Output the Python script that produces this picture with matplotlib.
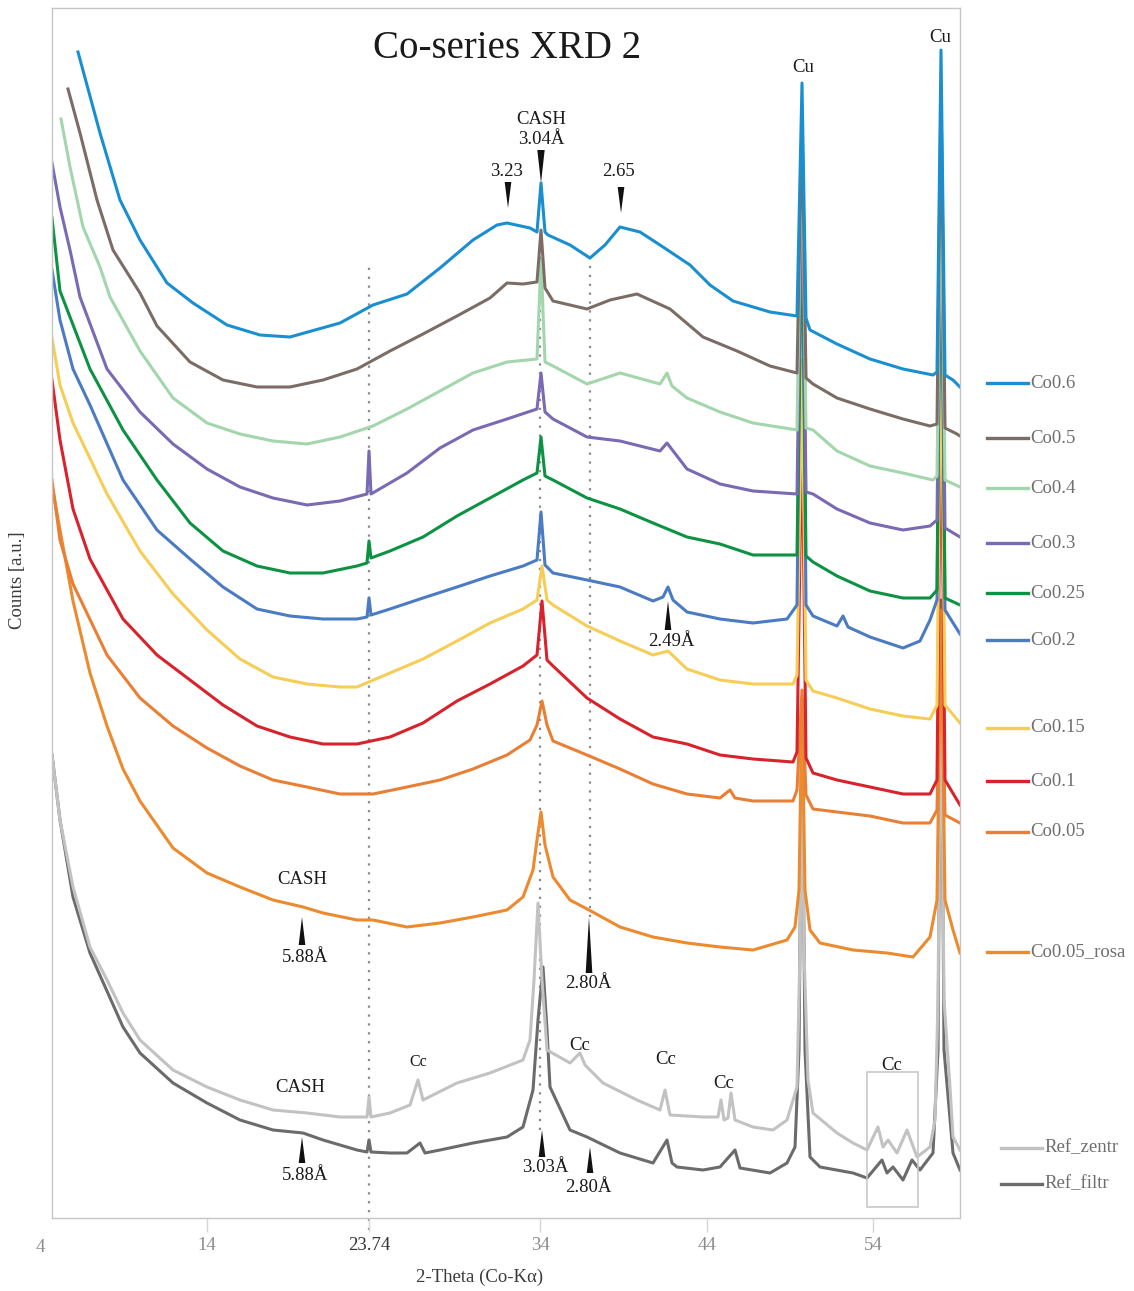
import matplotlib
matplotlib.use('Agg')
import matplotlib.pyplot as plt
from matplotlib.lines import Line2D
from matplotlib.patches import Polygon, Rectangle

plt.rcParams['font.family'] = ['Liberation Serif', 'DejaVu Serif']

# 2-Theta (deg) and counts (a.u., stacked) for each sample
tt_co06 = [6.28, 7.60, 8.80, 10.00, 11.62, 13.18, 15.22, 17.20, 19.00, 22.00,
           23.98, 26.02, 28.00, 29.98, 31.42, 32.02, 33.40, 33.82, 34.06, 34.30,
           34.48, 35.80, 37.00, 37.90, 38.80, 40.00, 41.20, 43.00, 44.20, 45.58,
           47.80, 49.42, 49.72, 49.96, 50.20, 51.82, 53.80, 55.78, 57.58, 57.82,
           58.06, 58.30, 58.78, 59.20]
cnt_co06 = [1166, 1085, 1018, 978, 935, 915, 893, 883, 881, 895,
            913, 924, 950, 978, 993, 995, 990, 986, 1035, 986,
            983, 973, 960, 973, 991, 986, 973, 953, 933, 917,
            906, 902, 1135, 900, 888, 874, 859, 849, 843, 846,
            1168, 843, 838, 831]

tt_co05 = [5.68, 6.40, 7.42, 8.38, 10.00, 11.02, 13.00, 14.98, 17.02, 19.00,
           20.98, 23.02, 25.00, 26.98, 29.02, 31.00, 32.02, 32.98, 33.82, 34.06,
           34.30, 34.78, 36.82, 38.20, 39.82, 41.80, 43.78, 45.82, 47.80, 49.42,
           49.72, 49.96, 50.38, 51.82, 53.80, 55.78, 57.40, 57.82, 58.06, 58.30,
           59.02, 59.20]
cnt_co05 = [1129, 1085, 1018, 968, 925, 892, 856, 838, 831, 831,
            838, 849, 867, 884, 902, 920, 935, 934, 936, 988,
            930, 917, 909, 918, 924, 909, 881, 867, 852, 845,
            1098, 840, 834, 820, 809, 799, 792, 794, 1128, 790,
            784, 782]

tt_co04 = [5.26, 5.80, 6.58, 7.60, 8.20, 10.00, 11.98, 14.02, 16.00, 17.98,
           20.02, 22.00, 23.98, 26.02, 28.00, 29.98, 32.02, 33.82, 34.06, 34.30,
           34.78, 36.82, 38.80, 41.20, 41.62, 41.92, 42.82, 44.80, 46.78, 49.42,
           49.72, 49.96, 50.38, 51.82, 53.80, 55.78, 57.58, 57.82, 58.06, 58.30,
           59.20]
cnt_co04 = [1099, 1051, 991, 951, 921, 867, 820, 795, 784, 777,
            774, 781, 792, 809, 827, 845, 856, 859, 958, 856,
            852, 834, 845, 834, 845, 832, 820, 806, 795, 788,
            1100, 790, 788, 767, 752, 745, 738, 742, 1068, 738,
            731]

tt_co03 = [4.72, 5.20, 5.80, 6.40, 8.02, 10.00, 11.98, 14.02, 16.00, 17.98,
           20.02, 22.00, 23.62, 23.74, 23.86, 26.02, 28.00, 29.98, 32.02, 33.82,
           34.06, 34.30, 34.78, 36.82, 38.80, 41.20, 41.62, 42.82, 44.80, 46.78,
           49.42, 49.72, 49.96, 50.38, 51.82, 53.80, 55.78, 57.40, 57.82, 58.06,
           58.30, 59.20]
cnt_co03 = [1055, 1011, 968, 921, 849, 806, 774, 749, 731, 720,
            713, 717, 724, 767, 724, 745, 770, 788, 799, 809,
            845, 806, 799, 781, 777, 767, 775, 749, 734, 727,
            724, 1058, 726, 724, 709, 695, 688, 692, 698, 1058,
            690, 681]

tt_co025 = [4.72, 5.20, 7.00, 8.98, 11.02, 13.00, 14.98, 17.02, 19.00, 20.98,
            23.02, 23.62, 23.74, 23.86, 25.00, 26.98, 29.02, 31.00, 32.98, 33.82,
            34.06, 34.30, 34.78, 36.82, 38.80, 40.78, 42.82, 44.80, 46.78, 49.42,
            49.72, 49.96, 50.38, 51.82, 53.80, 55.78, 57.40, 57.82, 58.06, 58.30,
            59.20]
cnt_co025 = [1000, 927, 849, 788, 738, 695, 667, 652, 645, 645,
             652, 655, 677, 660, 667, 681, 702, 720, 738, 745,
             781, 742, 738, 720, 709, 695, 681, 674, 663, 663,
             1018, 662, 656, 642, 627, 620, 620, 628, 1078, 620,
             613]

tt_co02 = [4.72, 5.20, 5.98, 7.00, 8.98, 11.02, 13.00, 14.98, 17.02, 19.00,
           20.98, 23.02, 23.62, 23.74, 23.86, 25.00, 26.98, 29.02, 31.00, 32.98,
           33.82, 34.06, 34.30, 34.78, 36.82, 38.80, 40.78, 41.38, 41.68, 41.98,
           42.82, 44.80, 46.78, 48.82, 49.42, 49.72, 49.96, 50.38, 51.82, 52.18,
           52.48, 53.80, 55.78, 56.80, 57.40, 57.82, 58.06, 58.30, 59.20]
cnt_co02 = [948, 898, 849, 813, 738, 688, 659, 631, 609, 602,
            599, 599, 601, 620, 603, 609, 620, 631, 642, 652,
            658, 706, 653, 645, 638, 631, 617, 621, 631, 618,
            606, 599, 595, 599, 613, 1053, 613, 602, 592, 602,
            591, 581, 570, 577, 598, 618, 1048, 608, 584]

tt_co015 = [4.72, 5.20, 5.98, 8.02, 10.00, 11.98, 14.02, 16.00, 17.98, 20.02,
            22.00, 23.02, 25.00, 26.98, 29.02, 31.00, 32.98, 33.82, 34.12, 34.42,
            34.78, 36.82, 38.80, 40.78, 41.68, 42.82, 44.80, 46.78, 49.18, 49.42,
            49.72, 49.96, 50.38, 51.82, 53.80, 55.78, 57.40, 57.82, 58.06, 58.30,
            59.20]
cnt_co015 = [880, 833, 795, 724, 667, 624, 588, 559, 541, 534,
             531, 531, 545, 559, 577, 595, 609, 618, 652, 618,
             613, 592, 577, 563, 567, 549, 538, 534, 534, 543,
             858, 538, 527, 520, 509, 502, 499, 513, 908, 513,
             495]

tt_co01 = [4.72, 5.20, 5.98, 7.00, 8.98, 11.02, 13.00, 14.98, 17.02, 19.00,
           20.98, 23.02, 25.00, 26.98, 29.02, 31.00, 32.98, 33.82, 34.12, 34.42,
           34.78, 36.82, 38.80, 40.78, 42.82, 44.80, 46.78, 49.18, 49.42, 49.72,
           49.96, 50.38, 51.82, 53.80, 55.78, 57.40, 57.82, 58.06, 58.30, 59.20]
cnt_co01 = [838, 778, 709, 659, 599, 563, 538, 513, 492, 481,
            474, 474, 481, 495, 517, 534, 552, 563, 617, 558,
            552, 520, 499, 481, 474, 463, 459, 456, 466, 803,
            460, 445, 438, 431, 424, 424, 438, 841, 438, 413]

tt_co005 = [4.72, 5.20, 5.98, 8.02, 10.00, 11.98, 14.02, 16.00, 17.98, 20.02,
            22.00, 23.98, 26.02, 28.00, 29.98, 32.02, 33.40, 33.82, 34.12, 34.42,
            34.78, 36.82, 38.80, 40.78, 42.82, 44.80, 45.40, 45.70, 46.78, 49.18,
            49.42, 49.72, 49.96, 50.38, 51.82, 53.80, 55.78, 57.40, 57.82, 58.06,
            58.30, 59.20]
cnt_co005 = [738, 678, 634, 563, 520, 492, 470, 452, 438, 431,
             424, 424, 431, 438, 449, 463, 478, 493, 517, 493,
             477, 463, 449, 434, 424, 420, 428, 420, 417, 417,
             428, 528, 423, 409, 406, 402, 395, 395, 408, 598,
             403, 395]

tt_rosa = [4.72, 5.20, 5.98, 7.00, 8.02, 8.98, 10.00, 11.98, 14.02, 16.00,
           17.98, 19.78, 20.98, 23.02, 23.98, 26.02, 28.00, 29.98, 32.02, 32.98,
           33.58, 33.82, 34.06, 34.30, 34.78, 35.80, 36.94, 38.80, 40.78, 42.82,
           44.80, 46.78, 48.82, 49.30, 49.54, 49.72, 49.90, 50.20, 50.80, 52.78,
           54.82, 56.38, 57.40, 57.82, 58.06, 58.30, 58.78, 59.20]
cnt_rosa = [733, 688, 617, 545, 492, 449, 417, 370, 345, 331,
            318, 311, 305, 298, 298, 291, 295, 301, 308, 321,
            348, 378, 406, 373, 341, 318, 308, 291, 281, 275,
            271, 268, 278, 291, 328, 518, 328, 288, 275, 268,
            265, 261, 281, 318, 608, 318, 288, 265]

tt_zentr = [4.72, 5.20, 5.98, 7.00, 8.02, 8.98, 10.00, 11.98, 14.02, 16.00,
            17.98, 20.02, 22.00, 23.62, 23.74, 23.86, 25.00, 26.20, 26.68, 26.98,
            29.02, 31.00, 32.98, 33.40, 33.64, 33.88, 34.12, 34.42, 35.80, 36.40,
            36.70, 37.78, 39.82, 41.20, 41.50, 41.80, 43.78, 44.68, 44.86, 45.04,
            45.28, 45.46, 45.70, 46.78, 47.98, 48.82, 49.42, 49.60, 49.72, 49.84,
            50.08, 50.38, 51.82, 52.78, 53.62, 54.28, 54.58, 54.88, 55.42, 56.02,
            56.62, 57.40, 57.70, 57.88, 58.06, 58.24, 58.60, 58.78, 59.20]
cnt_zentr = [463, 398, 331, 271, 238, 205, 178, 148, 131, 118,
             108, 105, 101, 101, 121, 101, 105, 113, 138, 118,
             135, 145, 158, 178, 238, 315, 238, 168, 155, 165,
             153, 135, 118, 108, 128, 103, 101, 101, 118, 98,
             100, 125, 98, 91, 88, 98, 131, 268, 458, 268,
             138, 105, 85, 75, 68, 91, 71, 78, 65, 88,
             61, 71, 98, 218, 568, 218, 131, 81, 68]

tt_filtr = [4.72, 5.20, 5.98, 7.00, 8.98, 10.00, 11.98, 14.02, 16.00, 17.98,
            19.78, 20.98, 23.02, 23.62, 23.74, 23.86, 25.00, 26.02, 26.80, 27.10,
            28.00, 29.98, 32.02, 32.98, 33.58, 33.88, 34.18, 34.42, 34.60, 35.80,
            36.82, 38.80, 40.78, 41.62, 41.92, 42.22, 43.78, 44.80, 45.70, 46.00,
            47.80, 48.82, 49.30, 49.54, 49.72, 49.90, 50.20, 50.80, 52.78, 53.62,
            54.52, 54.82, 55.18, 55.78, 56.32, 56.80, 57.58, 57.88, 58.06, 58.24,
            58.78, 59.20]
cnt_filtr = [463, 398, 321, 265, 191, 165, 135, 115, 98, 88,
             85, 78, 68, 66, 78, 66, 65, 65, 75, 65,
             68, 75, 81, 91, 128, 198, 251, 188, 131, 88,
             81, 65, 55, 78, 55, 51, 48, 51, 68, 50,
             45, 55, 71, 168, 498, 168, 61, 51, 45, 40,
             58, 45, 51, 38, 58, 48, 65, 168, 618, 168,
             65, 48]

# bottom to top drawing order
series = [
    ('Ref_filtr', tt_filtr, cnt_filtr, '#6b6b6b'),
    ('Ref_zentr', tt_zentr, cnt_zentr, '#c2c2c2'),
    ('Co0.05_rosa', tt_rosa, cnt_rosa, '#ec8a2e'),
    ('Co0.05', tt_co005, cnt_co005, '#e97f35'),
    ('Co0.1', tt_co01, cnt_co01, '#d8232c'),
    ('Co0.15', tt_co015, cnt_co015, '#f6cd57'),
    ('Co0.2', tt_co02, cnt_co02, '#4a7bc3'),
    ('Co0.25', tt_co025, cnt_co025, '#0d9244'),
    ('Co0.3', tt_co03, cnt_co03, '#7a69b3'),
    ('Co0.4', tt_co04, cnt_co04, '#a3d6ad'),
    ('Co0.5', tt_co05, cnt_co05, '#7c6c66'),
    ('Co0.6', tt_co06, cnt_co06, '#1a8fd0'),
]

W, H = 1134, 1291
fig = plt.figure(figsize=(W / 100, H / 100), dpi=100)
ax = fig.add_axes([52 / W, 1 - 1218 / H, 908 / W, 1210 / H])
ax.set_xlim(4.72, 59.2)
ax.set_ylim(0, 1210)

# dotted reference lines
for x, y0, y1 in [(23.74, -12, 956), (34.0, 88, 968), (37.0, 301, 963)]:
    ax.plot([x, x], [y0, y1], ls=(0, (1, 3)), lw=1.6, color='#8a8a8a',
            zorder=1, clip_on=False)

for name, tt, cnt, col in series:
    ax.plot(tt, cnt, color=col, lw=2.2, zorder=2, solid_joinstyle='round')

# axes styling
for sp in ax.spines.values():
    sp.set_color('#c6c6c6')
    sp.set_linewidth(1.0)
ax.set_yticks([])
ax.set_xticks([14, 23.74, 34, 44, 54])
ax.set_xticklabels(['14', '23.74', '34', '44', '54'])
ax.tick_params(axis='x', direction='out', length=10, width=1, color='#d6d6d6',
               labelsize=13.5, labelcolor='#8c8c8c', pad=4)
ax.get_xticklabels()[1].set_color('#333333')
ax.text(4.0, -30, '4', ha='center', va='center', fontsize=13.5,
        color='#8c8c8c', clip_on=False)

ax.set_xlabel('2-Theta (Co-K\u03b1)', fontsize=13.5, color='#3a3a3a')
ax.xaxis.set_label_coords(0.471, -0.042)
ax.set_ylabel('Counts [a.u.]', fontsize=13.5, color='#3a3a3a')
ax.yaxis.set_label_coords(-0.0286, 0.527)

ax.text(32.0, 1170, 'Co-series XRD 2', fontsize=28, ha='center', va='center',
        color='#1a1a1a')


def tri(x, tip, base, half=0.2):
    ax.add_patch(Polygon([(x - half, base), (x + half, base), (x, tip)],
                         closed=True, color='#111111', zorder=6, lw=0))


tc = '#1a1a1a'
fs = 13.5
# peaks marked from above
tri(32.08, 1010, 1036)
ax.text(32.0, 1046, '3.23', ha='center', va='center', fontsize=fs, color=tc)
tri(34.06, 1035, 1068, 0.22)
ax.text(34.06, 1078, '3.04\u00c5', ha='center', va='center', fontsize=fs, color=tc)
ax.text(34.06, 1098, 'CASH', ha='center', va='center', fontsize=fs, color=tc)
tri(38.86, 1005, 1031)
ax.text(38.7, 1046, '2.65', ha='center', va='center', fontsize=fs, color=tc)

# peaks marked from below
tri(41.68, 617, 588)
ax.text(41.9, 577, '2.49\u00c5', ha='center', va='center', fontsize=fs, color=tc)
tri(19.72, 301, 273)
ax.text(19.88, 261, '5.88\u00c5', ha='center', va='center', fontsize=fs, color=tc)
ax.text(19.72, 338, 'CASH', ha='center', va='center', fontsize=fs, color=tc)
tri(36.94, 301, 245)
ax.text(36.88, 235, '2.80\u00c5', ha='center', va='center', fontsize=fs, color=tc)
tri(19.72, 81, 55)
ax.text(19.88, 42, '5.88\u00c5', ha='center', va='center', fontsize=fs, color=tc)
ax.text(19.6, 130, 'CASH', ha='center', va='center', fontsize=fs, color=tc)
tri(34.12, 88, 61)
ax.text(34.3, 50, '3.03\u00c5', ha='center', va='center', fontsize=fs, color=tc)
tri(37.0, 71, 45)
ax.text(36.88, 31, '2.80\u00c5', ha='center', va='center', fontsize=fs, color=tc)

# calcite and copper labels
ax.text(26.68, 156, 'Cc', ha='center', va='center', fontsize=11.5, color=tc)
for x, y in [(36.4, 173), (41.56, 158), (45.04, 135), (55.12, 153)]:
    ax.text(x, y, 'Cc', ha='center', va='center', fontsize=fs, color=tc)
ax.add_patch(Rectangle((53.62, 11), 3.06, 135, fill=False, ec='#c8c8c8',
                       lw=1.2, zorder=5))
ax.text(49.78, 1151, 'Cu', ha='center', va='center', fontsize=fs, color=tc)
ax.text(58.0, 1181, 'Cu', ha='center', va='center', fontsize=fs, color=tc)

# legend to the right of the plot
leg_rows = {'Co0.6': 383, 'Co0.5': 438, 'Co0.4': 488, 'Co0.3': 543,
            'Co0.25': 593, 'Co0.2': 640, 'Co0.15': 728, 'Co0.1': 781,
            'Co0.05': 832, 'Co0.05_rosa': 952, 'Ref_zentr': 1148,
            'Ref_filtr': 1184}
for name, tt, cnt, col in series:
    py = leg_rows[name]
    x0, x1 = (1001, 1042) if name.startswith('Ref') else (987, 1028)
    fig.add_artist(Line2D([x0 / W, x1 / W], [1 - py / H] * 2, color=col,
                          lw=2.4, transform=fig.transFigure))
    fig.text((x1 + 2) / W, 1 - py / H, name, fontsize=13.5, color='#6e6e6e',
             ha='left', va='center')

fig.savefig('out.png', dpi=100)
